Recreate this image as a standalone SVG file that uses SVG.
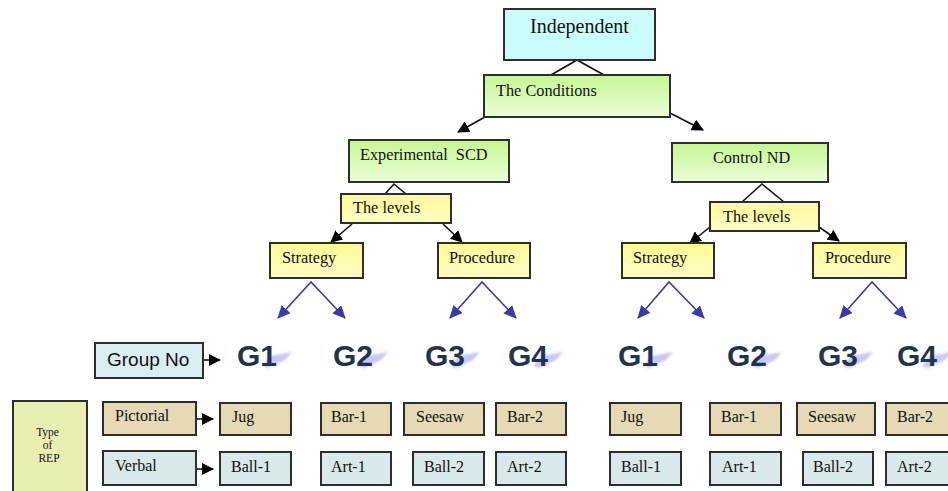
<svg xmlns="http://www.w3.org/2000/svg" width="948" height="491" viewBox="0 0 948 491">
<style>
  .box { stroke: #2e2e2e; stroke-width: 2; }
  .serif { font-family: "Liberation Serif", "Times New Roman", serif; fill: #111; }
  .lbl { font-size: 16.3px; }
  .sm { font-size: 16px; }
  .g { font-family: "Liberation Sans", Arial, sans-serif; font-weight: bold; font-size: 30px; fill: #22334d; }
  .blk { stroke: #111; stroke-width: 1.6; fill: none; }
  .blue { stroke: #3b3ba8; stroke-width: 1.6; fill: none; }
  .tan { fill: #e6d9b6; }
  .pale { fill: #d9e8e8; }
  .shadow { fill: #b4b0f2; opacity: 0.7; }
</style>
<defs>
  <linearGradient id="green" x1="0" y1="0" x2="0" y2="1">
    <stop offset="0" stop-color="#c6f794"/>
    <stop offset="1" stop-color="#ebfdd8"/>
  </linearGradient>
  <linearGradient id="yellow" x1="0" y1="0" x2="0" y2="1">
    <stop offset="0" stop-color="#fffa96"/>
    <stop offset="1" stop-color="#fffcc4"/>
  </linearGradient>
  <marker id="ah" markerWidth="12" markerHeight="12" refX="11" refY="6" orient="auto" markerUnits="userSpaceOnUse">
    <path d="M0,0 L12,6 L0,12 z" fill="#000"/>
  </marker>
  <marker id="ahb" markerWidth="13" markerHeight="12" refX="12" refY="6" orient="auto-start-reverse" markerUnits="userSpaceOnUse">
    <path d="M0,0 L13,6 L0,12 z" fill="#3b3ba8"/>
  </marker>
  <filter id="blur" x="-20%" y="-50%" width="140%" height="200%">
    <feGaussianBlur stdDeviation="0.8"/>
  </filter>
</defs>

<g id="connectors">
  <polyline class="blk" points="551,75 577,60 604,75"/>
  <line class="blk" x1="485" y1="117" x2="458" y2="132" marker-end="url(#ah)"/>
  <line class="blk" x1="670" y1="113" x2="703" y2="130" marker-end="url(#ah)"/>
  <polyline class="blk" points="385,194 394,184 406,194"/>
  <polyline class="blk" points="742,202 762,184 784,202"/>
  <line class="blk" x1="352" y1="224" x2="331" y2="242" marker-end="url(#ah)"/>
  <line class="blk" x1="443" y1="224" x2="462" y2="242" marker-end="url(#ah)"/>
  <line class="blk" x1="710" y1="227" x2="690" y2="243" marker-end="url(#ah)"/>
  <line class="blk" x1="819" y1="227" x2="839" y2="241" marker-end="url(#ah)"/>
  <polyline class="blue" points="278,318 311,282 345,318" marker-start="url(#ahb)" marker-end="url(#ahb)"/>
  <polyline class="blue" points="450,318 482,282 516,318" marker-start="url(#ahb)" marker-end="url(#ahb)"/>
  <polyline class="blue" points="638,318 669,282 704,318" marker-start="url(#ahb)" marker-end="url(#ahb)"/>
  <polyline class="blue" points="840,318 872,282 906,318" marker-start="url(#ahb)" marker-end="url(#ahb)"/>
  <line class="blk" x1="203" y1="360" x2="220" y2="360" marker-end="url(#ah)"/>
  <line class="blk" x1="196" y1="419" x2="213" y2="419" marker-end="url(#ah)"/>
  <line class="blk" x1="196" y1="469" x2="213" y2="469" marker-end="url(#ah)"/>
</g>

<g id="independent">
  <rect class="box" x="504" y="9" width="151" height="51" fill="#ccfdfd"/>
  <text class="serif" x="579.5" y="33" font-size="20" text-anchor="middle">Independent</text>
</g>
<g id="conditions">
  <rect class="box" x="484" y="75" width="186" height="42" fill="url(#green)"/>
  <text class="serif lbl" x="496" y="96">The Conditions</text>
</g>
<g id="experimental">
  <rect class="box" x="349" y="140" width="160" height="42" fill="url(#green)"/>
  <text class="serif lbl" x="360" y="160" xml:space="preserve">Experimental  SCD</text>
</g>
<g id="control">
  <rect class="box" x="672" y="143" width="156" height="39" fill="url(#green)"/>
  <text class="serif lbl" x="713" y="163">Control ND</text>
</g>
<g id="levels-left">
  <rect class="box" x="341" y="194" width="110" height="29" fill="url(#yellow)"/>
  <text class="serif lbl" x="353" y="213">The levels</text>
</g>
<g id="levels-right">
  <rect class="box" x="710" y="202" width="109" height="29" fill="url(#yellow)"/>
  <text class="serif lbl" x="723" y="222">The levels</text>
</g>
<g id="strategy-left">
  <rect class="box" x="270" y="243" width="93" height="35" fill="url(#yellow)"/>
  <text class="serif lbl" x="282" y="263">Strategy</text>
</g>
<g id="procedure-left">
  <rect class="box" x="438" y="243" width="92" height="35" fill="url(#yellow)"/>
  <text class="serif lbl" x="449" y="263">Procedure</text>
</g>
<g id="strategy-right">
  <rect class="box" x="622" y="243" width="92" height="35" fill="url(#yellow)"/>
  <text class="serif lbl" x="633" y="263">Strategy</text>
</g>
<g id="procedure-right">
  <rect class="box" x="813" y="243" width="93" height="35" fill="url(#yellow)"/>
  <text class="serif lbl" x="825" y="263">Procedure</text>
</g>

<g id="group-no">
  <rect class="box" x="95" y="343" width="108" height="35" fill="#daedf1"/>
  <text x="107" y="366" font-family="Liberation Sans, Arial, sans-serif" font-size="19" fill="#111">Group No</text>
</g>

<g id="g-labels">
  <g filter="url(#blur)">
    <path class="shadow" d="M262,366 L270,356 L292,352 L285,360 L268,368 z"/>
    <path class="shadow" d="M358,366 L366,356 L388,352 L381,360 L364,368 z"/>
    <path class="shadow" d="M450,366 L458,356 L480,352 L473,360 L456,368 z"/>
    <path class="shadow" d="M533,366 L541,356 L563,352 L556,360 L539,368 z"/>
    <path class="shadow" d="M643,366 L651,356 L673,352 L666,360 L649,368 z"/>
    <path class="shadow" d="M752,366 L760,356 L782,352 L775,360 L758,368 z"/>
    <path class="shadow" d="M843,366 L851,356 L873,352 L866,360 L849,368 z"/>
    <path class="shadow" d="M922,366 L930,356 L952,352 L945,360 L928,368 z"/>
  </g>
  <text class="g" x="237" y="366">G1</text>
  <text class="g" x="333" y="366">G2</text>
  <text class="g" x="425" y="366">G3</text>
  <text class="g" x="508" y="366">G4</text>
  <text class="g" x="618" y="366">G1</text>
  <text class="g" x="727" y="366">G2</text>
  <text class="g" x="818" y="366">G3</text>
  <text class="g" x="897" y="366">G4</text>
</g>

<g id="type-of-rep">
  <rect class="box" x="13" y="401" width="74" height="100" fill="#e9efb2"/>
  <text class="serif" font-size="11.5" text-anchor="middle">
    <tspan x="49" y="436">Type</tspan>
    <tspan x="49" y="449">of</tspan>
    <tspan x="49" y="462">REP</tspan>
  </text>
</g>
<g id="pictorial">
  <rect class="box tan" x="103" y="402" width="93" height="33"/>
  <text class="serif sm" x="115" y="421">Pictorial</text>
</g>
<g id="verbal">
  <rect class="box pale" x="103" y="451" width="93" height="34"/>
  <text class="serif sm" x="115" y="471">Verbal</text>
</g>

<g id="jug-1"><rect class="box tan" x="220" y="403" width="71" height="32"/><text class="serif sm" x="232" y="422">Jug</text></g>
<g id="bar1-1"><rect class="box tan" x="321" y="403" width="70" height="32"/><text class="serif sm" x="331" y="422">Bar-1</text></g>
<g id="seesaw-1"><rect class="box tan" x="404" y="403" width="80" height="32"/><text class="serif sm" x="416" y="422">Seesaw</text></g>
<g id="bar2-1"><rect class="box tan" x="496" y="403" width="70" height="32"/><text class="serif sm" x="507" y="422">Bar-2</text></g>
<g id="jug-2"><rect class="box tan" x="610" y="403" width="71" height="32"/><text class="serif sm" x="621" y="422">Jug</text></g>
<g id="bar1-2"><rect class="box tan" x="710" y="403" width="71" height="32"/><text class="serif sm" x="721" y="422">Bar-1</text></g>
<g id="seesaw-2"><rect class="box tan" x="797" y="403" width="78" height="32"/><text class="serif sm" x="808" y="422">Seesaw</text></g>
<g id="bar2-2"><rect class="box tan" x="886" y="403" width="70" height="32"/><text class="serif sm" x="897" y="422">Bar-2</text></g>

<g id="ball1-1"><rect class="box pale" x="220" y="452" width="71" height="33"/><text class="serif sm" x="231" y="472">Ball-1</text></g>
<g id="art1-1"><rect class="box pale" x="321" y="452" width="70" height="33"/><text class="serif sm" x="331" y="472">Art-1</text></g>
<g id="ball2-1"><rect class="box pale" x="413" y="452" width="71" height="33"/><text class="serif sm" x="424" y="472">Ball-2</text></g>
<g id="art2-1"><rect class="box pale" x="496" y="452" width="70" height="33"/><text class="serif sm" x="507" y="472">Art-2</text></g>
<g id="ball1-2"><rect class="box pale" x="610" y="452" width="71" height="33"/><text class="serif sm" x="621" y="472">Ball-1</text></g>
<g id="art1-2"><rect class="box pale" x="710" y="452" width="71" height="33"/><text class="serif sm" x="722" y="472">Art-1</text></g>
<g id="ball2-2"><rect class="box pale" x="803" y="452" width="70" height="33"/><text class="serif sm" x="813" y="472">Ball-2</text></g>
<g id="art2-2"><rect class="box pale" x="886" y="452" width="70" height="33"/><text class="serif sm" x="897" y="472">Art-2</text></g>
</svg>
